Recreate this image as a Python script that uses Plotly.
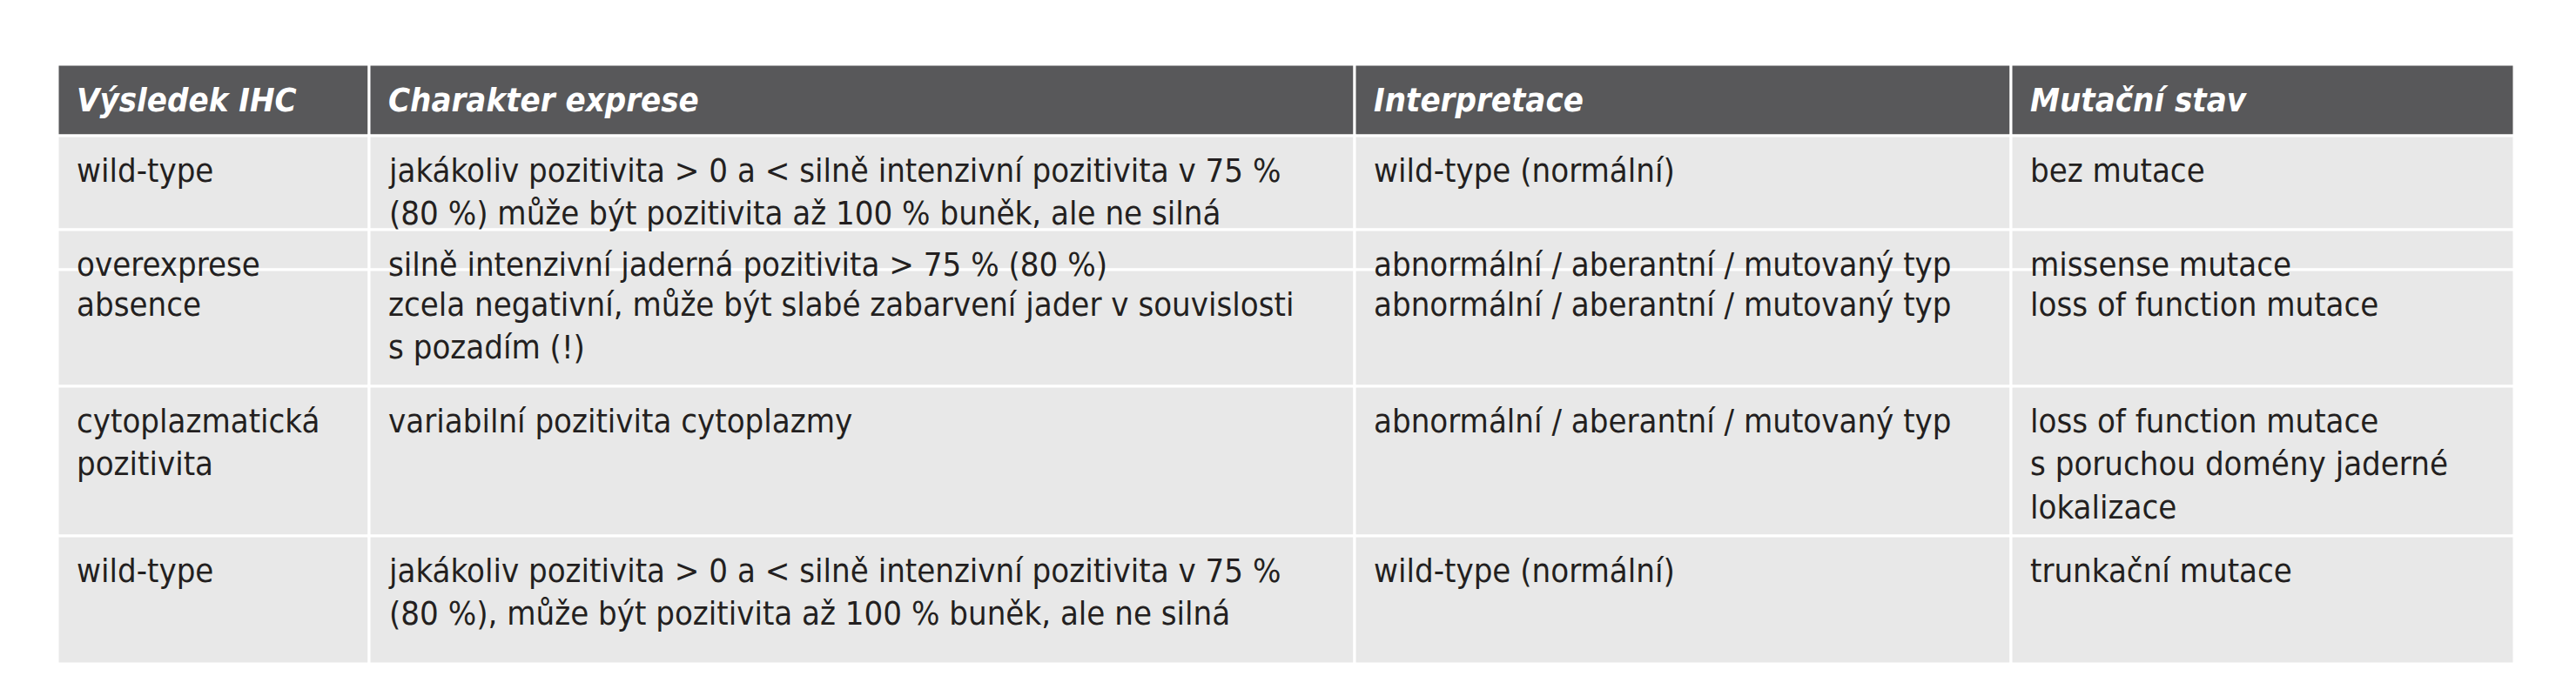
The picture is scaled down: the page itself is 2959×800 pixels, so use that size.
import plotly.graph_objects as go

headers = ["Výsledek IHC", "Charakter exprese", "Interpretace", "Mutační stav"]
col1 = ["wild-type", "overexprese", "absence", "cytoplazmatická<br>pozitivita", "wild-type"]
col2 = ["jakákoliv pozitivita > 0 a < silně intenzivní pozitivita v 75 %<br>(80 %) může být pozitivita až 100 % buněk, ale ne silná",
        "silně intenzivní jaderná pozitivita > 75 % (80 %)",
        "zcela negativní, může být slabé zabarvení jader v souvislosti<br>s pozadím (!)",
        "variabilní pozitivita cytoplazmy",
        "jakákoliv pozitivita > 0 a < silně intenzivní pozitivita v 75 %<br>(80 %), může být pozitivita až 100 % buněk, ale ne silná"]
col3 = ["wild-type (normální)", "abnormální / aberantní / mutovaný typ",
        "abnormální / aberantní / mutovaný typ", "abnormální / aberantní / mutovaný typ",
        "wild-type (normální)"]
col4 = ["bez mutace", "missense mutace", "loss of function mutace",
        "loss of function mutace<br>s poruchou domény jaderné<br>lokalizace", "trunkační mutace"]
columns = [col1, col2, col3, col4]

col_edges = [58, 416, 1548, 2302, 2880]
row_edges = [66, 148, 256, 302, 436, 608, 755]

FONT = "Liberation Sans Narrow, DejaVu Sans Condensed, sans-serif"
fig = go.Figure()
shapes, ann = [], []
for r in range(len(row_edges) - 1):
    for c in range(4):
        x0, x1 = col_edges[c], col_edges[c + 1]
        y0, y1 = row_edges[r], row_edges[r + 1]
        shapes.append(dict(type="rect", xref="x", yref="y", x0=x0, x1=x1, y0=y0, y1=y1,
                           fillcolor="#58585a" if r == 0 else "#e8e8e8",
                           line=dict(color="white", width=3), layer="below"))
        if r == 0:
            txt = "<b><i>%s</i></b>" % headers[c]
            ann.append(dict(x=x0 + 20, y=(y0 + y1) / 2, xref="x", yref="y", text=txt,
                            showarrow=False, xanchor="left", yanchor="middle",
                            font=dict(family=FONT, size=38, color="white")))
        else:
            ann.append(dict(x=x0 + 20, y=y0 + 16, xref="x", yref="y", text=columns[c][r - 1],
                            showarrow=False, xanchor="left", yanchor="top", align="left",
                            font=dict(family=FONT, size=38, color="#231f20")))

fig.add_trace(go.Scatter(x=[0, 2959], y=[0, 800], mode="markers", marker=dict(opacity=0),
                         hoverinfo="skip", showlegend=False))
fig.update_layout(width=2959, height=800, margin=dict(l=0, r=0, t=0, b=0),
                  paper_bgcolor="white", plot_bgcolor="white", shapes=shapes, annotations=ann,
                  xaxis=dict(range=[0, 2959], visible=False, fixedrange=True),
                  yaxis=dict(range=[800, 0], visible=False, fixedrange=True))
fig.write_html("out.html")
